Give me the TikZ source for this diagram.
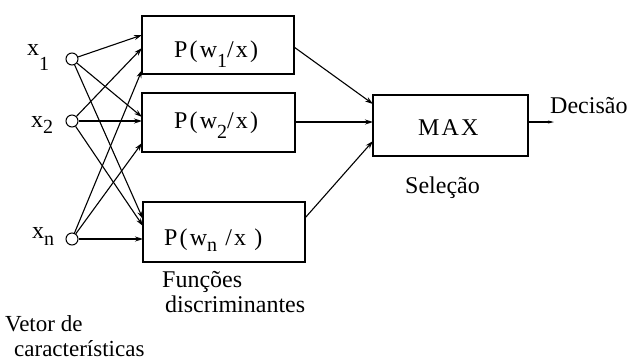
\documentclass[tikz,border=0pt]{standalone}
\usepackage{fontspec}
\setmainfont{Liberation Serif}
\newfontfamily\spacedfont[LetterSpace=9]{Liberation Serif}
\usetikzlibrary{arrows.meta}
% subscript set at nearly full size and dropped below the baseline
\newcommand\lowsub[2][-0.45ex]{\raisebox{#1}{\fontsize{20}{20}\selectfont #2}}
\begin{document}
\begin{tikzpicture}[x=1pt,y=-1pt,
  every node/.style={font=\fontsize{24}{27}\selectfont},
  inp/.style={draw,circle,line width=1pt,minimum size=12pt,inner sep=0pt},
  fbox/.style={draw,line width=1.1pt,rectangle},
  conn/.style={line width=1.1pt,-{Stealth[length=8pt,width=5pt]}},
  lbl/.style={anchor=base west,inner sep=0pt},
  boxtext/.style={anchor=base west,inner sep=0pt,font=\fontsize{24}{27}\spacedfont}]
\useasboundingbox (0,0) rectangle (633,360);

% input units
\node[inp] (x1) at (72,59) {};
\node[inp] (x2) at (72,121) {};
\node[inp] (xn) at (72,239) {};
\node[lbl] (l1) at (27,55) {x\lowsub[-15pt]{1}};
\node[lbl] (l2) at (31,127) {x\lowsub[-6pt]{2}};
\node[lbl] (ln) at (32,238) {x\lowsub[-7pt]{n}};

% discriminant functions
\draw[fbox] (142,16) rectangle (294,74);
\node[boxtext] (f1) at (174,57) {P(w\lowsub[-10pt]{1}/x)};
\draw[fbox] (142,93) rectangle (295,152);
\node[boxtext] (f2) at (174,128) {P(w\lowsub[-10pt]{2}/x)};
\draw[fbox] (143,202) rectangle (305,262);
\node[boxtext] (fn) at (164,245) {P(w\lowsub[-6pt]{n} /x )};

% entry points on the left edges of the boxes
\coordinate (a11) at (142,35);
\coordinate (a12) at (142,48);
\coordinate (a1n) at (142,70);
\coordinate (a21) at (142,117);
\coordinate (a22) at (142,121);
\coordinate (a2n) at (142,143);
\coordinate (an1) at (143,219);
\coordinate (an2) at (143,226);
\coordinate (ann) at (143,239);

\draw[conn] (x1) -- (a11);
\draw[conn] (x1) -- (a21);
\draw[conn] (x1) -- (an1);
\draw[conn] (x2) -- (a12);
\draw[conn] (x2) -- (a22);
\draw[conn] (x2) -- (an2);
\draw[conn] (xn) -- (a1n);
\draw[conn] (xn) -- (a2n);
\draw[conn] (xn) -- (ann);

% selection
\draw[fbox] (373,95) rectangle (528,156);
\node[boxtext] (max) at (418,135) {MAX};
\coordinate (o1) at (294,47);
\coordinate (o2) at (295,122);
\coordinate (on) at (305,218);
\coordinate (m1) at (373,104);
\coordinate (m2) at (373,122);
\coordinate (mn) at (373,141);
\draw[conn] (o1) -- (m1);
\draw[conn] (o2) -- (m2);
\draw[conn] (on) -- (mn);
\coordinate (mo) at (528,122);
\coordinate (out) at (554,122);
\draw[line width=1.1pt,-{Stealth[length=6pt,width=3pt]}] (mo) -- (out);

% captions
\node[lbl] (dec) at (550,113) {Decisão};
\node[lbl] (sel) at (405,193) {Seleção};
\node[lbl] (fun) at (162,287) {Funções};
\node[lbl] (dis) at (165,312) {discriminantes};
\node[lbl,font=\fontsize{23}{26}\selectfont] (vet) at (5,331) {Vetor de};
\node[lbl,font=\fontsize{23}{26}\selectfont] (car) at (14,356) {características};
\end{tikzpicture}
\end{document}
